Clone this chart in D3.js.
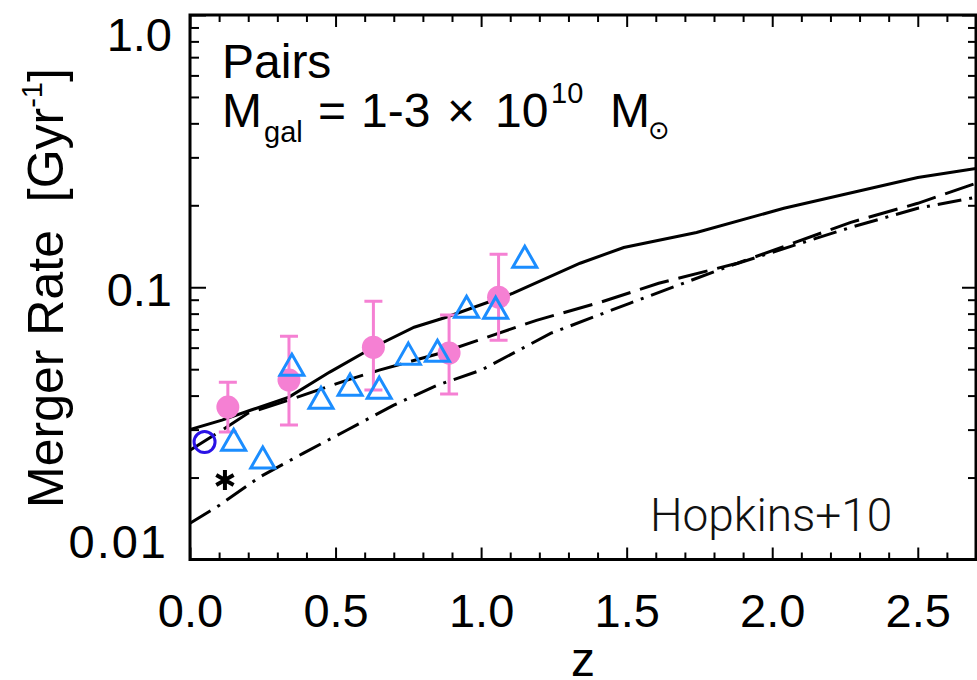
<!DOCTYPE html>
<html>
<head>
<meta charset="utf-8">
<script src="https://cdn.jsdelivr.net/npm/d3@7"></script>
<style>
  body { margin: 0; background: #fff; }
  svg { display: block; }
  text { font-family: "Liberation Sans", Arial, Helvetica, sans-serif; fill: #000; }
</style>
</head>
<body>
<svg width="977" height="680"></svg>
<script>
// ---- data ----
// model curves (solid, long dash, dash-dot)
var zSolid = [0, 0.11, 0.21, 0.34, 0.48, 0.63, 0.77, 0.88, 1.11, 1.34, 1.49, 1.74, 2.04, 2.50, 2.70];
var rateSolid = [0.030, 0.0325, 0.0354, 0.0395, 0.0488, 0.0602, 0.0713, 0.0776, 0.0951, 0.1225, 0.140, 0.159, 0.195, 0.253, 0.273];

var zDash = [0, 0.10, 0.20, 0.34, 0.54, 0.65, 0.86, 1.19, 1.41, 1.61, 1.88, 2.27, 2.50, 2.70];
var rateDash = [0.0252, 0.0294, 0.0345, 0.0385, 0.0456, 0.0496, 0.0573, 0.0756, 0.0881, 0.1034, 0.1225, 0.1732, 0.2034, 0.2408];

var zDashDot = [0, 0.10, 0.24, 0.39, 0.54, 0.70, 0.85, 1.00, 1.24, 1.51, 1.86, 2.27, 2.50, 2.70];
var rateDashDot = [0.0136, 0.0158, 0.0201, 0.0246, 0.0299, 0.0369, 0.0437, 0.0496, 0.0678, 0.0873, 0.1204, 0.166, 0.195, 0.214];

// pink points with error bars
var zPairs = [0.13, 0.34, 0.63, 0.89, 1.06];
var ratePairs = [0.0363, 0.0456, 0.0602, 0.0573, 0.0919];
var errLow = [0.0294, 0.0312, 0.0419, 0.0405, 0.0639];
var errHigh = [0.0448, 0.0661, 0.0889, 0.0790, 0.1322];

// blue open triangles
var zTri = [0.15, 0.25, 0.35, 0.45, 0.55, 0.65, 0.75, 0.85, 0.95, 1.05, 1.15];
var rateTri = [0.0274, 0.0236, 0.0517, 0.0391, 0.0437, 0.0426, 0.0568, 0.0582, 0.0845, 0.0838, 0.1289];

// single points
var zCircle = [0.05], rateCircle = [0.027];
var zStar = [0.12], rateStar = [0.0196];

// axis ticks
var xMajor = [0, 0.5, 1.0, 1.5, 2.0, 2.5];
var xLabels = ["0.0", "0.5", "1.0", "1.5", "2.0", "2.5"];
var yMajor = [0.01, 0.1, 1];
var yLabels = ["0.01", "0.1", "1.0"];

function drawChart() {
  var svg = d3.select("svg");
  // plot frame in pixels
  var pLeft = 190, pRight = 976, pTop = 15, pBottom = 559.5;

  var x = d3.scaleLinear().domain([0, 2.7]).range([pLeft, pRight]);
  var y = d3.scaleLog().domain([0.01, 1]).range([pBottom, pTop]);

  var pink = "#f580d3", blue = "#1b8dff", violet = "#2a12e6";

  // minor ticks
  var xMinor = d3.range(0, 2.71, 0.1).filter(function(d) { return Math.abs(d * 2 - Math.round(d * 2)) > 1e-6; });
  var yMinor = [];
  [0.01, 0.1].forEach(function(dec) { for (var k = 2; k <= 9; k++) yMinor.push(dec * k); });

  //////////// CURVES ////////////
  function zip(zs, rs) { return zs.map(function(z, i) { return [z, rs[i]]; }); }
  var line = d3.line().x(function(d) { return x(d[0]); }).y(function(d) { return y(d[1]); });

  svg.append("clipPath").attr("id", "clip")
    .append("rect").attr("x", pLeft).attr("y", pTop).attr("width", pRight - pLeft).attr("height", pBottom - pTop);

  var curves = svg.append("g").attr("clip-path", "url(#clip)")
    .attr("fill", "none").attr("stroke", "#000").attr("stroke-width", 3);

  curves.append("path").attr("d", line(zip(zSolid, rateSolid)));
  curves.append("path").attr("d", line(zip(zDash, rateDash))).attr("stroke-dasharray", "30,10");
  curves.append("path").attr("d", line(zip(zDashDot, rateDashDot))).attr("stroke-dasharray", "24,8,3,8");

  //////////// PINK PAIRS ////////////
  var pairs = svg.append("g");
  pairs.selectAll(".err").data(zPairs).enter().append("path")
    .attr("class", "err")
    .attr("fill", "none").attr("stroke", pink).attr("stroke-width", 3)
    .attr("d", function(d, i) {
      var cx = x(d), lo = y(errLow[i]), hi = y(errHigh[i]), w = 9;
      return "M" + cx + "," + lo + "V" + hi +
        "M" + (cx - w) + "," + hi + "H" + (cx + w) +
        "M" + (cx - w) + "," + lo + "H" + (cx + w);
    });
  pairs.selectAll("circle").data(zPairs).enter().append("circle")
    .attr("cx", function(d) { return x(d); })
    .attr("cy", function(d, i) { return y(ratePairs[i]); })
    .attr("r", 11.5)
    .attr("fill", pink);

  //////////// TRIANGLES ////////////
  svg.append("g").selectAll("path").data(zTri).enter().append("path")
    .attr("transform", function(d, i) { return "translate(" + x(d) + "," + y(rateTri[i]) + ")"; })
    .attr("d", "M0,-11L12,10L-12,10Z")
    .attr("fill", "none").attr("stroke", blue).attr("stroke-width", 3);

  // open circle
  svg.append("g").selectAll("circle").data(zCircle).enter().append("circle")
    .attr("cx", function(d) { return x(d); })
    .attr("cy", function(d, i) { return y(rateCircle[i]); })
    .attr("r", 10.5)
    .attr("fill", "none").attr("stroke", violet).attr("stroke-width", 3);

  // asterisk
  svg.append("g").selectAll("path").data(zStar).enter().append("path")
    .attr("transform", function(d, i) { return "translate(" + x(d) + "," + y(rateStar[i]) + ")"; })
    .attr("d", function() {
      var p = "", r = 10;
      [90, 30, 150].forEach(function(a) {
        var t = a * Math.PI / 180;
        p += "M" + (-r * Math.cos(t)) + "," + (-r * Math.sin(t)) + "L" + (r * Math.cos(t)) + "," + (r * Math.sin(t));
      });
      return p;
    })
    .attr("stroke", "#000").attr("stroke-width", 4);

  //////////// AXES ////////////
  function styleAxis(g) {
    g.select(".domain").remove();
    g.selectAll("line").attr("stroke", "#000").attr("stroke-width", 2);
  }

  svg.append("g").attr("transform", "translate(0," + pBottom + ")")
    .call(d3.axisBottom(x).tickValues(xMajor).tickSize(-12).tickPadding(34.5)
      .tickFormat(function(d, i) { return xLabels[i]; }))
    .call(styleAxis)
    .call(function(g) { g.selectAll("text").attr("font-size", 47).attr("fill", "#000").attr("font-family", null); });
  svg.append("g").attr("transform", "translate(0," + pBottom + ")")
    .call(d3.axisBottom(x).tickValues(xMinor).tickSize(-7).tickFormat(""))
    .call(styleAxis);

  svg.append("g").attr("transform", "translate(0," + pTop + ")")
    .call(d3.axisTop(x).tickValues(xMajor).tickSize(-12).tickFormat(""))
    .call(styleAxis);
  svg.append("g").attr("transform", "translate(0," + pTop + ")")
    .call(d3.axisTop(x).tickValues(xMinor).tickSize(-7).tickFormat(""))
    .call(styleAxis);

  // y tick labels sit inside the frame at the ends
  var yLabelDy = [-2, 18, 35];
  var yLabelDx = [-4, 0, 0];
  var yLabelSpacing = [2, 0, 0];
  svg.append("g").attr("transform", "translate(" + pLeft + ",0)")
    .call(d3.axisLeft(y).tickValues(yMajor).tickSize(-16).tickPadding(18)
      .tickFormat(function(d, i) { return yLabels[i]; }))
    .call(styleAxis)
    .call(function(g) {
      g.selectAll("text").attr("font-size", 47).attr("fill", "#000").attr("font-family", null)
        .attr("dy", null).attr("y", function(d, i) { return yLabelDy[i]; })
        .attr("dx", function(d, i) { return yLabelDx[i]; })
        .attr("letter-spacing", function(d, i) { return yLabelSpacing[i]; });
    });
  svg.append("g").attr("transform", "translate(" + pLeft + ",0)")
    .call(d3.axisLeft(y).tickValues(yMinor).tickSize(-9).tickFormat(""))
    .call(styleAxis);

  svg.append("g").attr("transform", "translate(" + pRight + ",0)")
    .call(d3.axisRight(y).tickValues(yMajor).tickSize(-14).tickFormat(""))
    .call(styleAxis);
  svg.append("g").attr("transform", "translate(" + pRight + ",0)")
    .call(d3.axisRight(y).tickValues(yMinor).tickSize(-8).tickFormat(""))
    .call(styleAxis);

  // frame
  svg.append("rect")
    .attr("x", pLeft).attr("y", pTop).attr("width", pRight - pLeft).attr("height", pBottom - pTop)
    .attr("fill", "none").attr("stroke", "#000").attr("stroke-width", 3);

  //////////// TITLES ////////////
  svg.append("text")
    .attr("x", (pLeft + pRight) / 2).attr("y", 676)
    .attr("text-anchor", "middle").attr("font-size", 48)
    .text("z");

  var yTitle = svg.append("text")
    .attr("transform", "translate(63,288) rotate(-90)")
    .attr("text-anchor", "middle").attr("font-size", 50);
  yTitle.append("tspan").text("Merger Rate\u00a0\u00a0[Gyr");
  yTitle.append("tspan").attr("font-size", 29).attr("dy", -21).text("-1");
  yTitle.append("tspan").attr("dy", 21).text("]");

  // annotations
  var note = svg.append("g").attr("font-size", 48);
  note.append("text").attr("x", 222).attr("y", 78).text("Pairs");
  note.append("text").attr("x", 222).attr("y", 127).text("M");
  note.append("text").attr("x", 264).attr("y", 142).attr("font-size", 29).text("gal");
  note.append("text").attr("x", 318).attr("y", 127).text("=");
  note.append("text").attr("x", 361).attr("y", 127).text("1-3");
  note.append("text").attr("x", 447).attr("y", 127).text("\u00d7");
  note.append("text").attr("x", 495).attr("y", 127).text("10");
  note.append("text").attr("x", 551).attr("y", 103).attr("font-size", 29).text("10");
  note.append("text").attr("x", 610).attr("y", 127).text("M");
  note.append("text").attr("x", 648).attr("y", 139).attr("font-size", 26)
    .style("font-family", "'DejaVu Sans', sans-serif").text("\u2299");

  svg.append("text")
    .attr("x", 650).attr("y", 531)
    .attr("font-size", 46).attr("font-weight", 300)
    .style("font-family", "Roboto, 'Liberation Sans', sans-serif")
    .style("fill", "#111")
    .text("Hopkins+10");
}

drawChart();
</script>
</body>
</html>
